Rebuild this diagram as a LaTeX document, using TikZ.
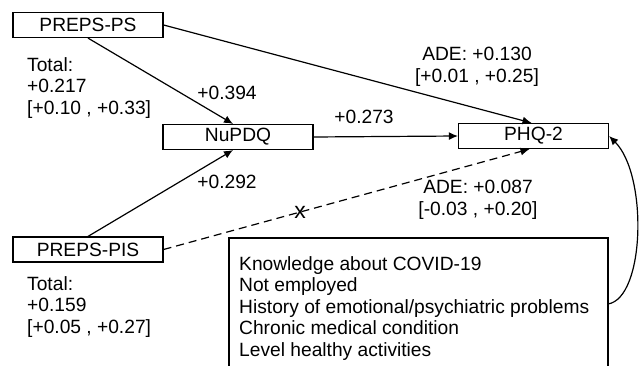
\documentclass[tikz,border=0pt]{standalone}
\usepackage{fontspec}
\setmainfont{Liberation Sans}
\usetikzlibrary{arrows.meta}
\begin{document}
\begin{tikzpicture}[x=1pt,y=-1pt,
  font=\fontsize{19.2}{21.5}\selectfont,
  box/.style={draw, line width=1.2pt, minimum width=150pt, minimum height=25pt, inner sep=0pt},
  conn/.style={line width=1.2pt, -{Latex[length=9pt,width=8pt]}},
  dconn/.style={conn, dash pattern=on 8pt off 5pt},
  lbl/.style={inner sep=0pt},
  multi/.style={inner sep=0pt, align=left, anchor=north west},
  centre/.style={inner sep=0pt, align=center}]
\useasboundingbox (0,0) rectangle (639,366);

% boxes
\node[box] (ps)  at (88,25)     {PREPS-PS};
\node[box] (nu)  at (238,137)   {NuPDQ};
\node[box] (phq) at (533.5,136) {PHQ-2};
\node[box] (pis) at (88,249.5)  {PREPS-PIS};

% totals
\node[multi] (tot1) at (27,57)  {Total:\\+0.217\\{[+0.10 , +0.33]}};
\node[multi] (tot2) at (27,276) {Total:\\+0.159\\{[+0.05 , +0.27]}};

% confounders box (open at the bottom)
\draw[line width=1.2pt] (229,366) -- (229,238) -- (608,238) -- (608,366);
\node[multi] (conf) at (239,256) {Knowledge about COVID-19\\Not employed\\History of emotional/psychiatric problems\\Chronic medical condition\\Level healthy activities};
\coordinate (cs) at (608,304);

% connectors
\draw[conn] (ps.south) -- ([xshift=-5pt]nu.north);
\draw[conn] (pis.north) -- ([xshift=-5pt]nu.south);
\draw[conn] (nu.east) -- (phq.west);
\draw[conn] (ps.east) -- ([xshift=-2pt]phq.north);
\draw[dconn] (pis.east) -- node[pos=0.373, lbl, font=\fontsize{23}{23}\selectfont] (xm) {x} ([xshift=-4pt]phq.south);
\draw[conn] (cs) .. controls (645,298) and (648,175) .. (phq.east);

% labels
\node[lbl] (l394) at (227,93)  {+0.394};
\node[lbl] (l292) at (227,182) {+0.292};
\node[lbl] (l273) at (364,117) {+0.273};
\node[centre] (ade1) at (477,67)  {ADE: +0.130\\{[+0.01 , +0.25]}};
\node[centre] (ade2) at (478,200) {ADE: +0.087\\{[-0.03 , +0.20]}};
\end{tikzpicture}
\end{document}
